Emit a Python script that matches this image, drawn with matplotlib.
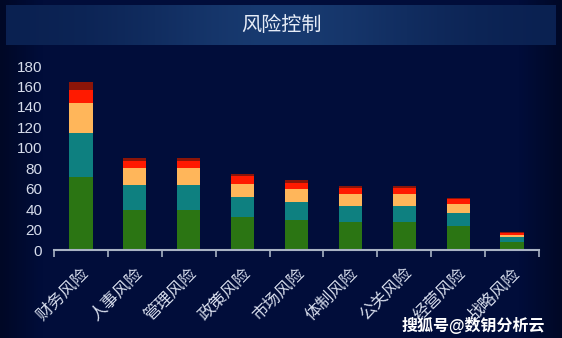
import numpy as np
import matplotlib.pyplot as plt

plt.rcParams['font.family'] = ['Liberation Sans', 'Noto Sans CJK SC', 'DejaVu Sans']

categories = ["财务风险", "人事风险", "管理风险", "政策风险", "市场风险",
              "体制风险", "公关风险", "经营风险", "战略风险"]
level1 = [71, 39, 39, 32, 29, 27, 27, 23, 8]
level2 = [43, 25, 25, 20, 18, 16, 16, 13, 5]
level3 = [30, 16, 16, 13, 13, 12, 12, 9, 2]
level4 = [13, 7, 7, 7, 6, 6, 6, 5, 2]
level5 = [7, 3, 3, 2, 2, 2, 2, 1, 1]
series = [level1, level2, level3, level4, level5]
colors = ["#2b7513", "#0e8080", "#ffb65a", "#ff1a00", "#8c1508"]

text_color = "#d6dceb"
axis_color = "#a9b3c4"

fig = plt.figure(figsize=(5.62, 3.38), dpi=100)
fig.patch.set_facecolor("#010d3a")

# background: dark navy with slightly darker edges, plus the title band
bg = fig.add_axes([0, 0, 1, 1], zorder=0)
bg.axis("off")
xs = np.linspace(-1, 1, 562)
edge = np.clip((np.abs(xs) - 0.85) / 0.15, 0, 1)
base = np.array([1, 13, 58]) / 255.0
dark = np.array([0, 8, 38]) / 255.0
row = base[None, :] * (1 - edge[:, None]) + dark[None, :] * edge[:, None]
bg.imshow(np.repeat(row[None, :, :], 338, axis=0), extent=(0, 562, 338, 0), aspect="auto")

band_x = np.linspace(-1, 1, 550)
w = np.exp(-(band_x / 0.55) ** 2)
c_mid = np.array([24, 58, 112]) / 255.0
c_edge = np.array([10, 32, 80]) / 255.0
band = c_edge[None, :] * (1 - w[:, None]) + c_mid[None, :] * w[:, None]
bg.imshow(band[None, :, :], extent=(6, 556, 45, 5), aspect="auto")
bg.set_xlim(0, 562)
bg.set_ylim(338, 0)
bg.text(281, 25, "风险控制", color="#e6ecf7", fontsize=14.5, ha="center", va="center")

ax = fig.add_axes([54 / 562, 1 - 250 / 338, 485 / 562, 184 / 338], zorder=1)
ax.set_facecolor("none")

x = np.arange(len(categories))
bottom = np.zeros(len(categories))
for vals, c in zip(series, colors):
    ax.bar(x, vals, width=0.43, bottom=bottom, color=c, linewidth=0)
    bottom += np.array(vals)

ax.set_xlim(-0.5, len(categories) - 0.5)
ax.set_ylim(0, 180)
ax.set_yticks(np.arange(0, 181, 20))

for s in ["top", "right", "left"]:
    ax.spines[s].set_visible(False)
ax.spines["bottom"].set_color(axis_color)
ax.spines["bottom"].set_linewidth(1.5)

ax.tick_params(axis="y", length=0, pad=8.5, labelcolor=text_color, labelsize=11)
ax.set_xticks(x)
ax.set_xticklabels(categories, rotation=45, ha="right", va="top",
                   rotation_mode="anchor", color=text_color, fontsize=12)
ax.tick_params(axis="x", which="major", length=0, pad=11)
ax.set_xticks(np.arange(-0.5, len(categories)), minor=True)
ax.tick_params(axis="x", which="minor", length=5, width=1.2, color=axis_color, direction="out")

fig.text(545 / 562, 1 - 325 / 338, "搜狐号@数钥分析云", color="white", fontsize=11.5,
         fontweight="bold", ha="right", va="center", zorder=3)

fig.savefig("out.png", dpi=100, facecolor=fig.get_facecolor())
